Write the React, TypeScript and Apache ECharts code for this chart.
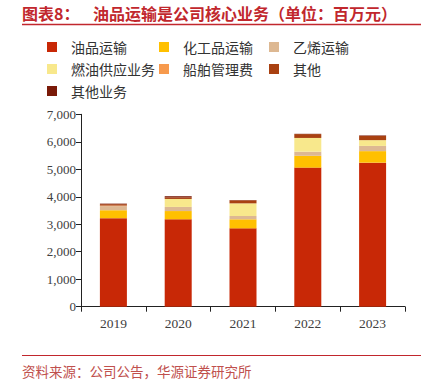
import React, { useEffect, useRef } from "react";
import * as echarts from "echarts";

const years = ["2019", "2020", "2021", "2022", "2023"];
const oil = [3220, 3180, 2850, 5060, 5240];
const chemical = [290, 300, 330, 430, 420];
const ethylene = [150, 150, 120, 150, 190];
const fuel = [0, 290, 460, 500, 210];
const shipMgmt = [20, 0, 0, 0, 0];
const other = [50, 60, 110, 140, 150];
const otherBiz = [20, 40, 10, 10, 20];
const yTicks = [0, 1000, 2000, 3000, 4000, 5000, 6000, 7000];

const seriesDefs = [
  { name: "油品运输", data: oil, color: "#C82806" },
  { name: "化工品运输", data: chemical, color: "#FFC000" },
  { name: "乙烯运输", data: ethylene, color: "#DDB892" },
  { name: "燃油供应业务", data: fuel, color: "#F8E88C" },
  { name: "船舶管理费", data: shipMgmt, color: "#F79A4D" },
  { name: "其他", data: other, color: "#A94111" },
  { name: "其他业务", data: otherBiz, color: "#7A1A08" },
];

const legendPos = [
  [47, 40],
  [159, 40],
  [269, 40],
  [47, 62],
  [159, 62],
  [269, 62],
  [47, 84],
];

export default function App() {
  const ref = useRef<HTMLDivElement>(null);
  useEffect(() => {
    if (!ref.current) return;
    const chart = echarts.init(ref.current, null, { renderer: "svg" });
    const serif = "'Liberation Serif', 'Noto Sans CJK SC', serif";
    const cjk = "'Noto Sans CJK SC', sans-serif";
    chart.setOption({
      animation: false,
      backgroundColor: "#ffffff",
      graphic: [
        {
          type: "text",
          x: 22,
          y: 13,
          style: {
            text: "图表8：",
            fill: "#C1272D",
            font: "bold 16px 'Noto Sans CJK SC', sans-serif",
            verticalAlign: "middle",
          },
        },
        {
          type: "text",
          x: 93,
          y: 13,
          style: {
            text: "油品运输是公司核心业务（单位：百万元）",
            fill: "#C1272D",
            font: "bold 16px 'Noto Sans CJK SC', sans-serif",
            verticalAlign: "middle",
          },
        },
        {
          type: "line",
          shape: { x1: 22, y1: 24.5, x2: 421, y2: 24.5 },
          style: { stroke: "#C1272D", lineWidth: 1.5 },
        },
        {
          type: "line",
          shape: { x1: 22, y1: 355.5, x2: 421, y2: 355.5 },
          style: { stroke: "#C1272D", lineWidth: 1.2 },
        },
        {
          type: "text",
          x: 22,
          y: 371,
          style: {
            text: "资料来源：公司公告，华源证券研究所",
            fill: "#C0504D",
            font: "13.5px 'Noto Sans CJK SC', sans-serif",
            verticalAlign: "middle",
          },
        },
      ],
      legend: seriesDefs.map((s, i) => ({
        data: [s.name],
        left: legendPos[i][0],
        top: legendPos[i][1],
        padding: 0,
        itemWidth: 10,
        itemHeight: 10,
        icon: "rect",
        selectedMode: false,
        textStyle: {
          fontFamily: cjk,
          fontSize: 14,
          color: "#333",
          padding: [0, 0, 0, 9],
        },
      })),
      grid: { left: 81, right: 19, top: 114.3, bottom: 76.3 },
      xAxis: {
        type: "category",
        data: years,
        axisLine: { lineStyle: { color: "#222", width: 1 } },
        axisTick: { show: true, length: 5, inside: false, lineStyle: { color: "#222" } },
        axisLabel: { fontFamily: serif, fontSize: 13.5, color: "#404040", margin: 10 },
      },
      yAxis: {
        type: "value",
        min: 0,
        max: 7000,
        interval: 1000,
        axisLine: { show: true, lineStyle: { color: "#222", width: 1 } },
        axisTick: { show: true, length: 5, lineStyle: { color: "#222" } },
        splitLine: { show: false },
        axisLabel: {
          fontFamily: serif,
          fontSize: 13,
          color: "#404040",
          margin: 5,
          formatter: (v: number) => (yTicks.includes(v) ? v.toLocaleString("en-US") : ""),
        },
      },
      series: seriesDefs.map((s) => ({
        name: s.name,
        type: "bar",
        stack: "total",
        barWidth: 27,
        data: s.data,
        itemStyle: { color: s.color },
      })),
    });
    return () => chart.dispose();
  }, []);
  return (
    <div
      ref={ref}
      style={{ position: "fixed", left: 0, top: 0, width: 424, height: 383 }}
    />
  );
}
